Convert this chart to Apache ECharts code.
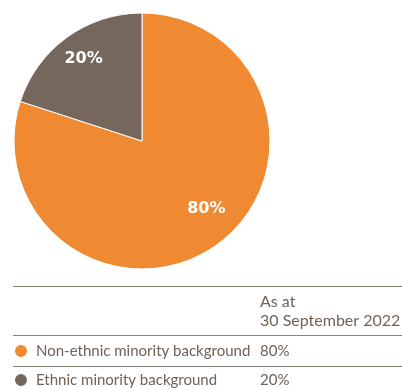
<!DOCTYPE html>
<html>
<head>
<meta charset="utf-8">
<script src="https://cdn.jsdelivr.net/npm/echarts@6/dist/echarts.min.js"></script>
<style>
  html, body { margin: 0; padding: 0; background: #fff; }
  #main { width: 402px; height: 390px; }
</style>
</head>
<body>
<div id="main"></div>
<script>
var names = ['Non-ethnic minority background', 'Ethnic minority background'];
var values = [80, 20];
var colors = ['#EF8A32', '#75675B'];
var headerLines = ['As at', '30 September 2022'];

var textColor = '#6E6259';
var font = 'Lato, sans-serif';

var myChart = echarts.init(document.getElementById('main'));

// label nudges so the % sit where the original puts them
var labelOffsets = [[25, 14], [-19, -28]];

var seriesData = names.map(function (n, i) {
    return {
        name: n,
        value: values[i],
        itemStyle: { color: colors[i] },
        label: { offset: labelOffsets[i] }
    };
});

var option = {
    animation: false,
    legend: {
        orient: 'vertical',
        left: 13,
        top: 343,
        height: 80,
        padding: 0,
        icon: 'circle',
        itemWidth: 14,
        itemHeight: 14,
        itemGap: 13,
        selectedMode: false,
        data: names,
        formatter: function (name) {
            var i = names.indexOf(name);
            return '{n|' + name + '}{v|' + values[i] + '%}';
        },
        textStyle: {
            rich: {
                n: { width: 224, padding: [0, 0, 0, 3], color: textColor, fontSize: 15, fontFamily: font, lineHeight: 16 },
                v: { color: textColor, fontSize: 15, fontFamily: font, lineHeight: 16 }
            }
        }
    },
    graphic: [
        { type: 'line', shape: { x1: 13, y1: 286.5, x2: 402, y2: 286.5 }, style: { stroke: '#8a7f76', lineWidth: 1 } },
        { type: 'line', shape: { x1: 13, y1: 335.5, x2: 402, y2: 335.5 }, style: { stroke: '#8a7f76', lineWidth: 1 } },
        { type: 'line', shape: { x1: 13, y1: 366.5, x2: 402, y2: 366.5 }, style: { stroke: '#8a7f76', lineWidth: 1 } },
        {
            type: 'text', left: 260, top: 292,
            style: { text: headerLines.join('\n'), fill: textColor, font: '16px ' + font, lineHeight: 19 }
        }
    ],
    series: [
        {
            type: 'pie',
            center: [142, 141],
            radius: [0, 128],
            startAngle: 90,
            clockwise: true,
            silent: true,
            itemStyle: { borderColor: '#fff', borderWidth: 1 },
            label: {
                show: true,
                position: 'inside',
                formatter: '{c}%',
                color: '#fff',
                fontSize: 16,
                fontWeight: 'bold',
                fontFamily: '"DejaVu Sans", sans-serif'
            },
            labelLine: { show: false },
            data: seriesData
        }
    ]
};

myChart.setOption(option);
</script>
</body>
</html>
